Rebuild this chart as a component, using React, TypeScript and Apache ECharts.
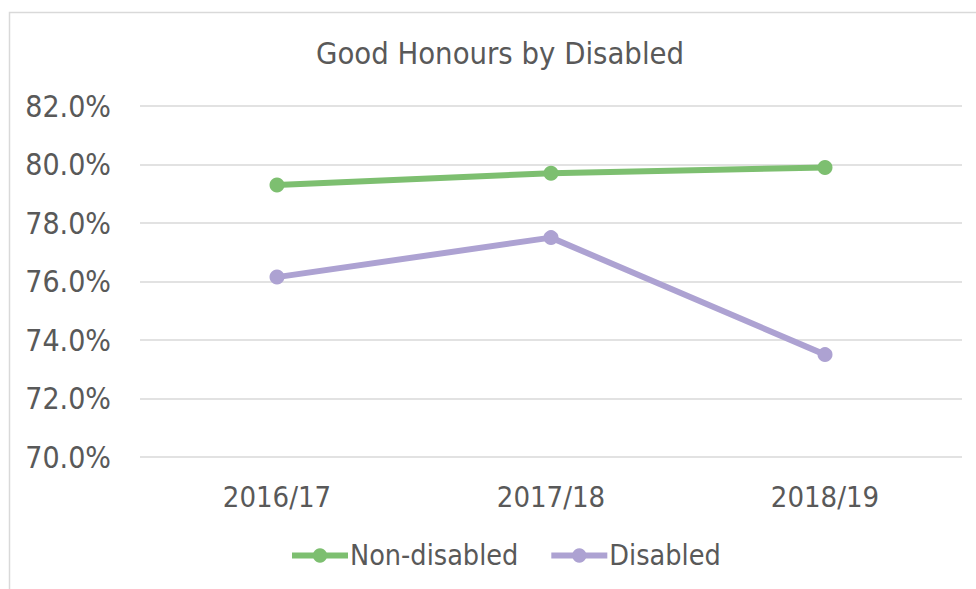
import React, { useEffect, useRef } from "react";
import * as echarts from "echarts";

const categories = ["2016/17", "2017/18", "2018/19"];
const nonDisabled = [79.3, 79.7, 79.9];
const disabled = [76.15, 77.5, 73.5];
const seriesNames = ["Non-disabled", "Disabled"];
const yMin = 70;
const yMax = 82;
const yInterval = 2;

const FONT = "'DejaVu Sans Condensed', 'Liberation Sans', Arial, sans-serif";
const TEXT = "#595959";
const GREEN = "#7dbf70";
const PURPLE = "#ada2d2";

export default function App() {
  const ref = useRef<HTMLDivElement>(null);
  useEffect(() => {
    if (!ref.current) return;
    const chart = echarts.init(ref.current, undefined, { renderer: "svg" });
    chart.setOption({
      animation: false,
      backgroundColor: "#ffffff",
      textStyle: { fontFamily: FONT },
      title: {
        text: "Good Honours by Disabled",
        left: 311,
        top: 33,
        textStyle: { fontFamily: FONT, fontSize: 30.7, fontWeight: "normal", color: TEXT },
      },
      graphic: [
        {
          type: "rect",
          shape: { x: 9.5, y: 12.5, width: 1200, height: 1200 },
          style: { fill: "none", stroke: "#d9d9d9", lineWidth: 1.5 },
          silent: true,
        },
      ],
      grid: { left: 140, right: 14, top: 106, bottom: 132 },
      legend: {
        bottom: 14,
        left: 284,
        itemWidth: 56,
        itemHeight: 18,
        itemGap: 30,
        lineStyle: { width: 6 },
        textStyle: { fontFamily: FONT, fontSize: 28.5, color: TEXT, padding: [0, 0, 0, -3] },
        data: seriesNames,
      },
      xAxis: {
        type: "category",
        data: categories,
        boundaryGap: true,
        axisLine: { show: false },
        axisTick: { show: false },
        axisLabel: { fontFamily: FONT, fontSize: 29, color: TEXT, margin: 25 },
      },
      yAxis: {
        type: "value",
        min: yMin,
        max: yMax,
        interval: yInterval,
        axisLine: { show: false },
        axisTick: { show: false },
        splitLine: { lineStyle: { color: "#d9d9d9", width: 1.5 } },
        axisLabel: {
          fontFamily: FONT,
          fontSize: 30,
          color: TEXT,
          margin: 29,
          formatter: (v: number) => v.toFixed(1) + "%",
        },
      },
      series: [
        {
          name: seriesNames[0],
          type: "line",
          data: nonDisabled,
          symbol: "circle",
          symbolSize: 15,
          itemStyle: { color: GREEN },
          lineStyle: { color: GREEN, width: 6 },
        },
        {
          name: seriesNames[1],
          type: "line",
          data: disabled,
          symbol: "circle",
          symbolSize: 15,
          itemStyle: { color: PURPLE },
          lineStyle: { color: PURPLE, width: 6 },
        },
      ],
    });
    return () => chart.dispose();
  }, []);
  return (
    <div
      ref={ref}
      style={{ position: "fixed", left: 0, top: 0, width: 976, height: 589 }}
    />
  );
}
